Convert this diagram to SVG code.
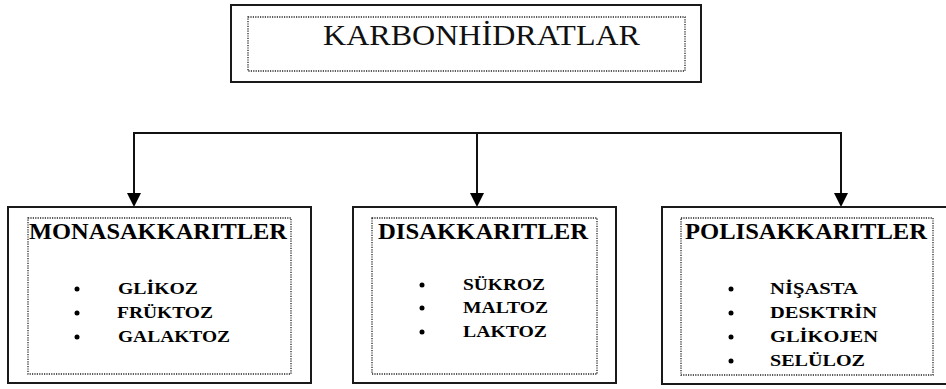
<svg xmlns="http://www.w3.org/2000/svg" width="946" height="389" viewBox="0 0 946 389">
<style>
.outer{fill:#fff;stroke:#1a1a1a;stroke-width:2}
.inner{fill:none;stroke:#222;stroke-width:1.3;stroke-dasharray:1.2,1.2}
.title{font-family:"Liberation Serif",serif;font-weight:bold;font-size:24px;fill:#000}
.main{font-family:"Liberation Serif",serif;font-size:30px;fill:#111}
.item{font-family:"Liberation Serif",serif;font-weight:bold;font-size:16.5px;fill:#000}
.bul{fill:#000}
.conn{fill:none;stroke:#111;stroke-width:2}
.head{fill:#000}
</style>
<g id="connectors">
<polyline class="conn" points="134,194 134,133 841,133 841,194"/>
<line class="conn" x1="477" y1="133" x2="477" y2="194"/>
<path class="head" d="M127,193 L141,193 L134,207 Z"/>
<path class="head" d="M470,193 L484,193 L477,207 Z"/>
<path class="head" d="M834,193 L848,193 L841,207 Z"/>
</g>
<g id="karbonhidratlar">
<rect class="outer" x="231" y="5" width="470" height="77"/>
<rect class="inner" x="248" y="17" width="437" height="54"/>
<text class="main" x="323" y="45" textLength="317" lengthAdjust="spacingAndGlyphs">KARBONHİDRATLAR</text>
</g>
<g id="monosakkaritler">
<rect class="outer" x="8" y="207" width="303" height="176"/>
<rect class="inner" x="28" y="218" width="263" height="156"/>
<text class="title" x="29" y="239" textLength="258" lengthAdjust="spacingAndGlyphs">MONASAKKARITLER</text>
<circle class="bul" cx="77" cy="289" r="2.5"/>
<circle class="bul" cx="77" cy="313" r="2.5"/>
<circle class="bul" cx="77" cy="337" r="2.5"/>
<text class="item" x="118" y="294" textLength="80" lengthAdjust="spacingAndGlyphs">GLİKOZ</text>
<text class="item" x="117" y="318" textLength="96" lengthAdjust="spacingAndGlyphs">FRÜKTOZ</text>
<text class="item" x="118" y="342" textLength="112" lengthAdjust="spacingAndGlyphs">GALAKTOZ</text>
</g>
<g id="disakkaritler">
<rect class="outer" x="353" y="207" width="263" height="176"/>
<rect class="inner" x="372" y="218" width="225" height="156"/>
<text class="title" x="378" y="239" textLength="210" lengthAdjust="spacingAndGlyphs">DISAKKARITLER</text>
<circle class="bul" cx="422" cy="285" r="2.5"/>
<circle class="bul" cx="422" cy="308" r="2.5"/>
<circle class="bul" cx="422" cy="332" r="2.5"/>
<text class="item" x="463" y="290" textLength="82" lengthAdjust="spacingAndGlyphs">SÜKROZ</text>
<text class="item" x="463" y="313" textLength="85" lengthAdjust="spacingAndGlyphs">MALTOZ</text>
<text class="item" x="463" y="337" textLength="84" lengthAdjust="spacingAndGlyphs">LAKTOZ</text>
</g>
<g id="polisakkaritler">
<rect class="outer" x="662" y="207" width="290" height="177"/>
<rect class="inner" x="681" y="218" width="252" height="157"/>
<text class="title" x="685" y="239" textLength="242" lengthAdjust="spacingAndGlyphs">POLISAKKARITLER</text>
<circle class="bul" cx="731" cy="289" r="2.5"/>
<circle class="bul" cx="731" cy="313" r="2.5"/>
<circle class="bul" cx="731" cy="337" r="2.5"/>
<circle class="bul" cx="731" cy="361" r="2.5"/>
<text class="item" x="770" y="294" textLength="88" lengthAdjust="spacingAndGlyphs">NİŞASTA</text>
<text class="item" x="770" y="318" textLength="107" lengthAdjust="spacingAndGlyphs">DESKTRİN</text>
<text class="item" x="770" y="342" textLength="108" lengthAdjust="spacingAndGlyphs">GLİKOJEN</text>
<text class="item" x="770" y="366" textLength="95" lengthAdjust="spacingAndGlyphs">SELÜLOZ</text>
</g>
</svg>
